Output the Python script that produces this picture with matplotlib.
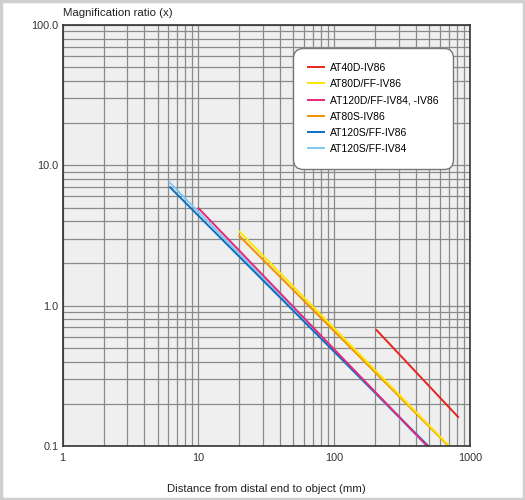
import numpy as np
import matplotlib.pyplot as plt
from matplotlib.patches import Rectangle
from matplotlib.ticker import LogLocator, FixedLocator, NullFormatter

plt.rcParams['font.family'] = ['Liberation Sans', 'DejaVu Sans']

# series: (distance start, distance end), (ratio start, ratio end)
names = ['AT40D-IV86', 'AT80D/FF-IV86', 'AT120D/FF-IV84, -IV86',
         'AT80S-IV86', 'AT120S/FF-IV86', 'AT120S/FF-IV84']
colors = ['#e8231e', '#ffe500', '#e5287d', '#f29100', '#0a6fc2', '#7fc9f0']
dist = [[205, 818], [20.1, 703], [10, 484], [20, 695], [6.17, 493], [6.1, 480]]
ratio = [[0.67, 0.161], [3.37, 0.1], [4.95, 0.1], [3.14, 0.1], [6.98, 0.1], [7.6, 0.1]]
draw_order = [5, 4, 2, 3, 1, 0]

yticks = [0.1, 1, 10, 100]
ytick_labels = ['0.1', '1.0', '10.0', '100.0']
xticks = [1, 10, 100, 1000]
xtick_labels = ['1', '10', '100', '1000']

fig = plt.figure(figsize=(5.25, 5.0), dpi=100)
ax = fig.add_axes([0.1194, 0.108, 0.7758, 0.842])
ax.set_facecolor('#efefef')
ax.set_xscale('log')
ax.set_yscale('log')
ax.set_xlim(1, 1000)
ax.set_ylim(0.1, 100)

lines = {}
for i in draw_order:
    lines[i], = ax.plot(dist[i], ratio[i], color=colors[i], lw=1.4, label=names[i])

ax.xaxis.set_major_locator(FixedLocator(xticks))
ax.set_xticklabels(xtick_labels)
ax.yaxis.set_major_locator(FixedLocator(yticks))
ax.set_yticklabels(ytick_labels)
ax.xaxis.set_minor_locator(LogLocator(base=10, subs=np.arange(2, 10)))
ax.yaxis.set_minor_locator(LogLocator(base=10, subs=np.arange(2, 10)))
ax.xaxis.set_minor_formatter(NullFormatter())
ax.yaxis.set_minor_formatter(NullFormatter())
ax.tick_params(which='both', length=0, labelsize=7.8, colors='#333333')
ax.tick_params(axis='y', pad=3)
ax.tick_params(axis='x', pad=5)
ax.grid(which='both', color='#8a8a8a', lw=0.9)
ax.set_axisbelow(True)
for s in ax.spines.values():
    s.set_color('#333333')
    s.set_linewidth(1.2)

ax.set_xlabel('Distance from distal end to object (mm)', fontsize=8.2, color='#222222', labelpad=15)
fig.text(0.12, 0.974, 'Magnification ratio (x)', fontsize=8.2, color='#222222', va='center', ha='left')

leg = ax.legend(handles=[lines[i] for i in range(6)], loc='upper right',
                bbox_to_anchor=(0.972, 0.957), fontsize=7.5, frameon=True,
                handlelength=1.55, borderpad=1.4, labelspacing=0.6, handletextpad=0.6,
                fancybox=True)
leg.get_frame().set_facecolor('white')
leg.get_frame().set_edgecolor('#777777')
leg.get_frame().set_alpha(1)
leg.get_frame().set_boxstyle('round', pad=0, rounding_size=0.9)

fig.patches.append(Rectangle((0.002, 0.002), 0.996, 0.996, transform=fig.transFigure,
                             fill=False, edgecolor='#cfcfcf', lw=2.5))

fig.savefig('out.png', dpi=100)
